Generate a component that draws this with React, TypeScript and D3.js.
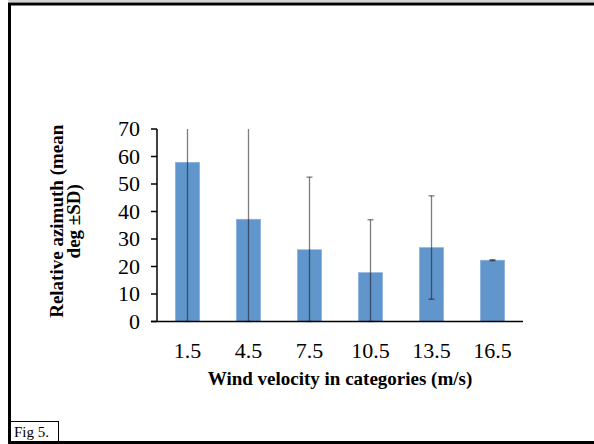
import React from "react";
import * as d3 from "d3";

// Wind velocity categories (m/s) and relative azimuth mean ± SD (deg)
const categories = ["1.5", "4.5", "7.5", "10.5", "13.5", "16.5"];
const means = [57.9, 37.2, 26.1, 17.8, 26.9, 22.3];
const sds = [60, 38, 26.4, 19.2, 18.8, 0.2];
const yTicks = [0, 10, 20, 30, 40, 50, 60, 70];

const W = 594;
const H = 444;
const plot = { left: 157, right: 523, top: 129, bottom: 321.5 };
const serif = "'Liberation Serif', 'Times New Roman', serif";

export default function App() {
  const x = d3
    .scaleBand<string>()
    .domain(categories)
    .range([plot.left, plot.right])
    .paddingInner(0.6)
    .paddingOuter(0.3);
  const y = d3.scaleLinear().domain([0, 70]).range([plot.bottom, plot.top]);
  const [yMin, yMax] = y.domain();

  const bars = categories.map((c, i) => {
    const lo = means[i] - sds[i];
    const hi = means[i] + sds[i];
    return {
      c,
      mean: means[i],
      lo: Math.max(lo, yMin),
      hi: Math.min(hi, yMax),
      hiClipped: hi > yMax,
    };
  });

  const yTitleCy = (plot.top + plot.bottom) / 2 - 4;

  return (
    <svg
      width={W}
      height={H}
      style={{ position: "absolute", left: 0, top: 0, background: "#fff" }}
      fontFamily={serif}
    >
      {/* frame */}
      <line x1={8} x2={W} y1={1} y2={1} stroke="#aaa" strokeWidth={1} />
      <line x1={8} x2={W} y1={4} y2={4} stroke="#000" strokeWidth={3} />
      <line x1={9.5} x2={9.5} y1={3} y2={H} stroke="#000" strokeWidth={3} />
      <line x1={8} x2={W} y1={442.5} y2={442.5} stroke="#000" strokeWidth={3} />
      <rect x={10.5} y={421.5} width={48} height={20} fill="#fff" stroke="#000" strokeWidth={1} />
      <text x={14} y={437} fontSize={15}>Fig 5.</text>

      {/* bars */}
      {bars.map((b) => (
        <rect
          key={b.c}
          x={x(b.c)!}
          y={y(b.mean)}
          width={x.bandwidth()}
          height={y(0) - y(b.mean)}
          fill="#6096cc"
          stroke="#8fb5de"
          strokeWidth={0.6}
        />
      ))}

      {/* error bars */}
      {bars.map((b) => {
        const cx = x(b.c)! + x.bandwidth() / 2;
        return (
          <g key={"e" + b.c} stroke="rgba(20,20,20,0.55)" strokeWidth={1.3}>
            <line x1={cx} x2={cx} y1={y(b.lo)} y2={y(b.hi)} />
            <line x1={cx - 3} x2={cx + 3} y1={y(b.lo)} y2={y(b.lo)} />
            {!b.hiClipped && (
              <line x1={cx - 3} x2={cx + 3} y1={y(b.hi)} y2={y(b.hi)} />
            )}
          </g>
        );
      })}

      {/* y axis */}
      <line x1={plot.left} x2={plot.left} y1={plot.top} y2={plot.bottom} stroke="#000" strokeWidth={1.5} />
      {yTicks.map((t) => (
        <g key={t}>
          <line x1={plot.left - 6} x2={plot.left} y1={y(t)} y2={y(t)} stroke="#000" strokeWidth={1.5} />
          <text x={plot.left - 17} y={y(t)} dy="0.34em" textAnchor="end" fontSize={22}>
            {t}
          </text>
        </g>
      ))}

      {/* x axis */}
      <line x1={plot.left - 6} x2={plot.right} y1={plot.bottom} y2={plot.bottom} stroke="#000" strokeWidth={1.5} />
      {categories.map((c) => (
        <text
          key={c}
          x={x(c)! + x.bandwidth() / 2}
          y={358}
          textAnchor="middle"
          fontSize={22}
        >
          {c}
        </text>
      ))}

      {/* axis titles */}
      <text x={340} y={385} textAnchor="middle" fontSize={19} fontWeight="bold">
        Wind velocity in categories (m/s)
      </text>
      <g transform={`translate(63,${yTitleCy}) rotate(-90)`}>
        <text x={0} y={0} textAnchor="middle" fontSize={19} fontWeight="bold">
          Relative azimuth (mean
        </text>
        <text x={0} y={17} textAnchor="middle" fontSize={19} fontWeight="bold">
          deg ±SD)
        </text>
      </g>
    </svg>
  );
}
